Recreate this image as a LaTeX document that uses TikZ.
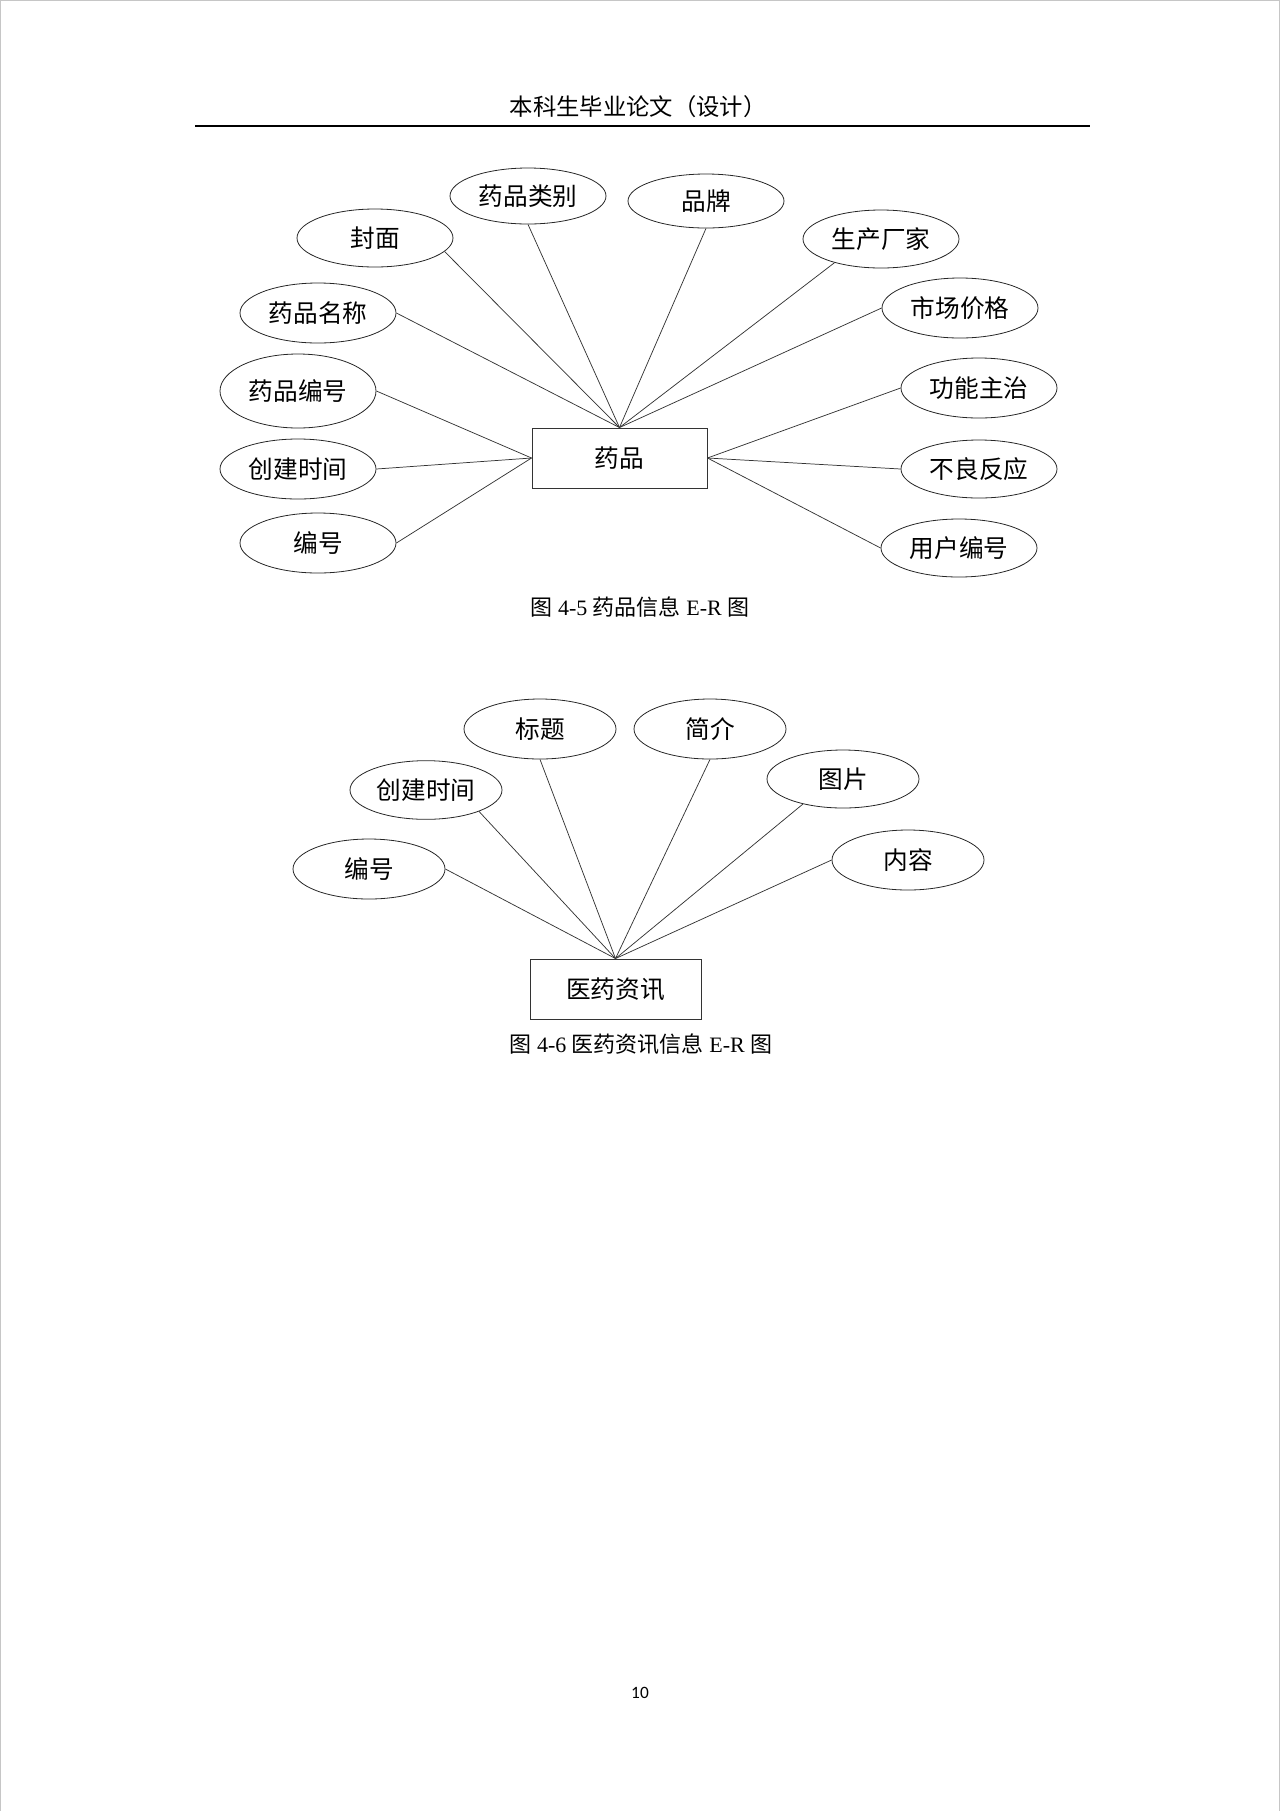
\documentclass[tikz,border=0pt]{standalone}
\usepackage{fontspec}
\setmainfont{Liberation Serif}
\newfontfamily\cjk{Noto Sans CJK SC}
\newfontfamily\numfont{Carlito}
\usetikzlibrary{shapes.geometric}
\begin{document}
\begin{tikzpicture}[x=0.75pt,y=-0.75pt,
  attr/.style={ellipse, draw=black!85, line width=0.6pt, minimum width=117pt, minimum height=44pt, inner sep=0pt,
    font=\cjk\fontsize{18.5}{18.5}\selectfont},
  attrb/.style={attr, minimum width=114pt},
  ent/.style={rectangle, draw=black!80, line width=0.7pt, inner sep=0pt,
    font=\cjk\fontsize{18.5}{18.5}\selectfont},
  conn/.style={draw=black!80, line width=0.55pt},
  capt/.style={inner sep=0pt, font=\fontsize{16.5}{16.5}\selectfont}
]
\useasboundingbox (0,0) rectangle (1280,1811);
\draw[gray!45, line width=0.8pt] (0.5,1811) -- (0.5,0.5) -- (1279.5,0.5) -- (1279.5,1811);

% header
\node[inner sep=0pt, font=\cjk\fontsize{17.5}{17.5}\selectfont] (hdr) at (638,107) {本科生毕业论文（设计）};
\coordinate (hl) at (195,126);
\coordinate (hr) at (1090,126);
\draw[line width=1.1pt] (hl) -- (hr);

% ---------- Figure 4-5 ----------
\node[ent, minimum width=131.25pt, minimum height=45pt] (yp) at (619.5,458) {药品};

\node[attr, minimum height=42pt] (lb) at (528,196) {药品类别};
\node[attr, minimum height=43.5pt] (fm) at (375,238) {封面};
\node[attr, minimum height=45pt] (mc) at (318,313) {药品名称};
\node[attr, minimum height=55.5pt] (ypbh) at (298,391) {药品编号};
\node[attr, minimum height=45pt] (cj) at (298,469) {创建时间};
\node[attr, minimum height=45pt] (bh) at (318,543) {编号};

\node[attr, minimum height=40.5pt] (pp) at (706,201) {品牌};
\node[attr, minimum height=43.5pt] (sc) at (881,239) {生产厂家};
\node[attr, minimum height=45pt] (jg) at (960,308) {市场价格};
\node[attr, minimum height=45pt] (gn) at (979,388) {功能主治};
\node[attr, minimum height=43.5pt] (bl) at (979,469) {不良反应};
\node[attr, minimum height=43.5pt] (yh) at (959,548) {用户编号};

\draw[conn] (fm.-11.6) -- (yp.north);
\draw[conn] (lb.south) -- (yp.north);
\draw[conn] (mc.east) -- (yp.north);
\draw[conn] (pp.south) -- (yp.north);
\draw[conn] (sc.-153.4) -- (yp.north);
\draw[conn] (jg.west) -- (yp.north);
\draw[conn] (ypbh.east) -- (yp.west);
\draw[conn] (cj.east) -- (yp.west);
\draw[conn] (bh.east) -- (yp.west);
\draw[conn] (gn.west) -- (yp.east);
\draw[conn] (bl.west) -- (yp.east);
\draw[conn] (yh.west) -- (yp.east);

\node[capt] (cap1) at (640,607) {{\cjk 图} 4-5 {\cjk 药品信息} E-R {\cjk 图}};

% ---------- Figure 4-6 ----------
\node[ent, minimum width=128.25pt, minimum height=45pt] (yy) at (615.5,989) {医药资讯};

\node[attrb, minimum height=45pt] (bt) at (540,729) {标题};
\node[attrb, minimum height=45pt] (jj) at (710,729) {简介};
\node[attrb, minimum height=44pt] (cj2) at (426,790) {创建时间};
\node[attrb, minimum height=43.5pt] (tp) at (843,779) {图片};
\node[attrb, minimum height=45pt] (bh2) at (369,869) {编号};
\node[attrb, minimum height=45pt] (nr) at (908,860) {内容};

\draw[conn] (bh2.east) -- (yy.north);
\draw[conn] (cj2.-22) -- (yy.north);
\draw[conn] (bt.south) -- (yy.north);
\draw[conn] (jj.south) -- (yy.north);
\draw[conn] (tp.-148) -- (yy.north);
\draw[conn] (nr.west) -- (yy.north);

\node[capt] (cap2) at (641,1044) {{\cjk 图} 4-6 {\cjk 医药资讯信息} E-R {\cjk 图}};

% page number
\node[inner sep=0pt, font=\numfont\fontsize{13}{13}\selectfont] (pg) at (640,1693) {10};
\end{tikzpicture}
\end{document}
